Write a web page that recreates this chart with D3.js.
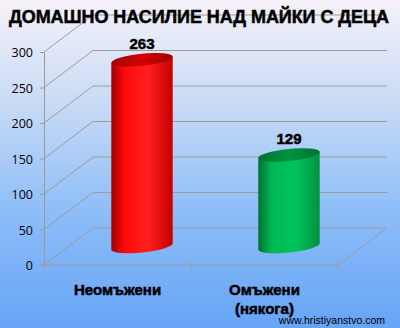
<!DOCTYPE html>
<html lang="bg">
<head>
<meta charset="UTF-8" />
<title>Домашно насилие над майки с деца</title>
<script src="https://d3js.org/d3.v7.min.js"></script>
<style>
    html, body { margin: 0; padding: 0; }
    body { width: 400px; height: 328px; overflow: hidden; }
    svg { display: block; font-family: "Liberation Sans", Arial, sans-serif; }
    .y-axis text { font-family: "Open Sans", sans-serif; font-size: 12.5px; fill: #000; }
    .y-axis line, .y-axis path { stroke: #9a9a9a; }
    .heavy { stroke: #000; stroke-width: 0.5px; }
</style>
</head>
<body>
<svg id="chart" width="400" height="328"></svg>
<script>
    // данни
    const title = "ДОМАШНО НАСИЛИЕ НАД МАЙКИ С ДЕЦА";
    const categories = ["Неомъжени", "Омъжени (някога)"];
    const categoryLines = [["Неомъжени"], ["Омъжени", "(някога)"]];
    const values = [263, 129];
    const yTicks = [0, 50, 100, 150, 200, 250, 300];
    const barColors = [
        { dark: "#a30000", mid: "#ff0a0a", light: "#ff2020", edge: "#c40000", top: "#d40000" },
        { dark: "#007030", mid: "#00b854", light: "#00c45c", edge: "#00923f", top: "#009443" }
    ];
    const credit = "www.hristiyanstvo.com";

    const svg = d3.select("#chart");
    const defs = svg.append("defs");

    // фон
    const bg = defs.append("linearGradient").attr("id", "bg")
        .attr("x1", 0).attr("y1", 0).attr("x2", 0).attr("y2", 1);
    bg.append("stop").attr("offset", "0%").attr("stop-color", "#f6f1fa");
    bg.append("stop").attr("offset", "30%").attr("stop-color", "#cadcf5");
    bg.append("stop").attr("offset", "65%").attr("stop-color", "#8dbdf8");
    bg.append("stop").attr("offset", "100%").attr("stop-color", "#66a4f6");
    svg.append("rect").attr("width", 400).attr("height", 328).attr("fill", "url(#bg)");

    // 3D параметри
    const plotLeft = 44, plotRight = 338, plotBottom = 265, plotTop = 52;
    const dx = 49, dy = -37;

    const x = d3.scaleBand().domain(categories).range([plotLeft, plotRight]);
    const y = d3.scaleLinear().domain([0, 300]).range([plotBottom, plotTop]);

    const grid = svg.append("g").attr("stroke", "#9c9c9c").attr("stroke-width", 1).attr("fill", "none");

    // задна стена и странична стена
    yTicks.forEach(t => {
        grid.append("path").attr("d", `M${plotLeft},${y(t)}L${plotLeft + dx},${y(t) + dy}L${plotRight + dx},${y(t) + dy}`);
    });
    // под
    grid.append("path").attr("d", `M${plotLeft},${plotBottom}L${plotRight},${plotBottom}L${plotRight + dx},${plotBottom + dy}`);
    x.domain().concat([null]).forEach((c, i) => {
        const xx = plotLeft + i * x.step();
        grid.append("line").attr("x1", xx).attr("x2", xx).attr("y1", plotBottom - 3).attr("y2", plotBottom + 5);
    });

    // ос Y
    svg.append("g")
        .attr("class", "y-axis")
        .attr("transform", `translate(${plotLeft},0)`)
        .call(d3.axisLeft(y).tickValues(yTicks).tickSize(4).tickSizeOuter(0).tickPadding(7))
        .call(g => g.selectAll("text").attr("dy", "0.36em"));

    // цилиндри
    const rot = -6;
    const rad = rot * Math.PI / 180;
    const rx = x.bandwidth() * 0.21, ry = 6;

    values.forEach((v, i) => {
        const c = barColors[i];
        const cx = x(categories[i]) + x.bandwidth() / 2 + dx / 2;
        const yb = y(0) + dy / 2;
        const yt = y(v) + dy / 2;
        const ox = rx * Math.cos(rad), oy = rx * Math.sin(rad);

        const grad = defs.append("linearGradient").attr("id", "body" + i)
            .attr("gradientUnits", "userSpaceOnUse")
            .attr("x1", cx - ox).attr("x2", cx + ox).attr("y1", 0).attr("y2", 0);
        grad.append("stop").attr("offset", "0%").attr("stop-color", c.dark);
        grad.append("stop").attr("offset", "22%").attr("stop-color", c.mid);
        grad.append("stop").attr("offset", "60%").attr("stop-color", c.light);
        grad.append("stop").attr("offset", "100%").attr("stop-color", c.edge);

        svg.append("path")
            .attr("d", `M${cx - ox},${yt - oy}L${cx - ox},${yb - oy}` +
                `A${rx},${ry} ${rot} 0 0 ${cx + ox},${yb + oy}` +
                `L${cx + ox},${yt + oy}Z`)
            .attr("fill", `url(#body${i})`);

        const tg = defs.append("linearGradient").attr("id", "top" + i)
            .attr("gradientUnits", "userSpaceOnUse")
            .attr("x1", cx - ox).attr("x2", cx + ox).attr("y1", 0).attr("y2", 0);
        tg.append("stop").attr("offset", "0%").attr("stop-color", c.dark);
        tg.append("stop").attr("offset", "50%").attr("stop-color", c.top);
        tg.append("stop").attr("offset", "100%").attr("stop-color", c.dark);

        svg.append("ellipse")
            .attr("cx", cx).attr("cy", yt)
            .attr("rx", rx).attr("ry", ry)
            .attr("transform", `rotate(${rot},${cx},${yt})`)
            .attr("fill", `url(#top${i})`);

        svg.append("text")
            .attr("class", "heavy")
            .attr("x", cx).attr("y", yt - 11)
            .attr("text-anchor", "middle")
            .attr("font-size", 15).attr("font-weight", "bold")
            .text(v);
    });

    // категории
    categoryLines.forEach((lines, i) => {
        const t = svg.append("text")
            .attr("class", "heavy")
            .attr("text-anchor", "middle")
            .attr("font-size", 15).attr("font-weight", "bold");
        lines.forEach((s, j) => {
            t.append("tspan")
                .attr("x", x(categories[i]) + x.bandwidth() / 2)
                .attr("y", 295 + j * 19)
                .text(s);
        });
    });

    // заглавие
    svg.append("text")
        .attr("class", "heavy")
        .attr("x", 199).attr("y", 23)
        .attr("text-anchor", "middle")
        .attr("font-size", 18).attr("font-weight", "bold")
        .attr("textLength", 380)
        .text(title);

    svg.append("text")
        .attr("x", 385).attr("y", 324)
        .attr("text-anchor", "end")
        .attr("font-size", 10.5)
        .text(credit);
</script>
</body>
</html>
